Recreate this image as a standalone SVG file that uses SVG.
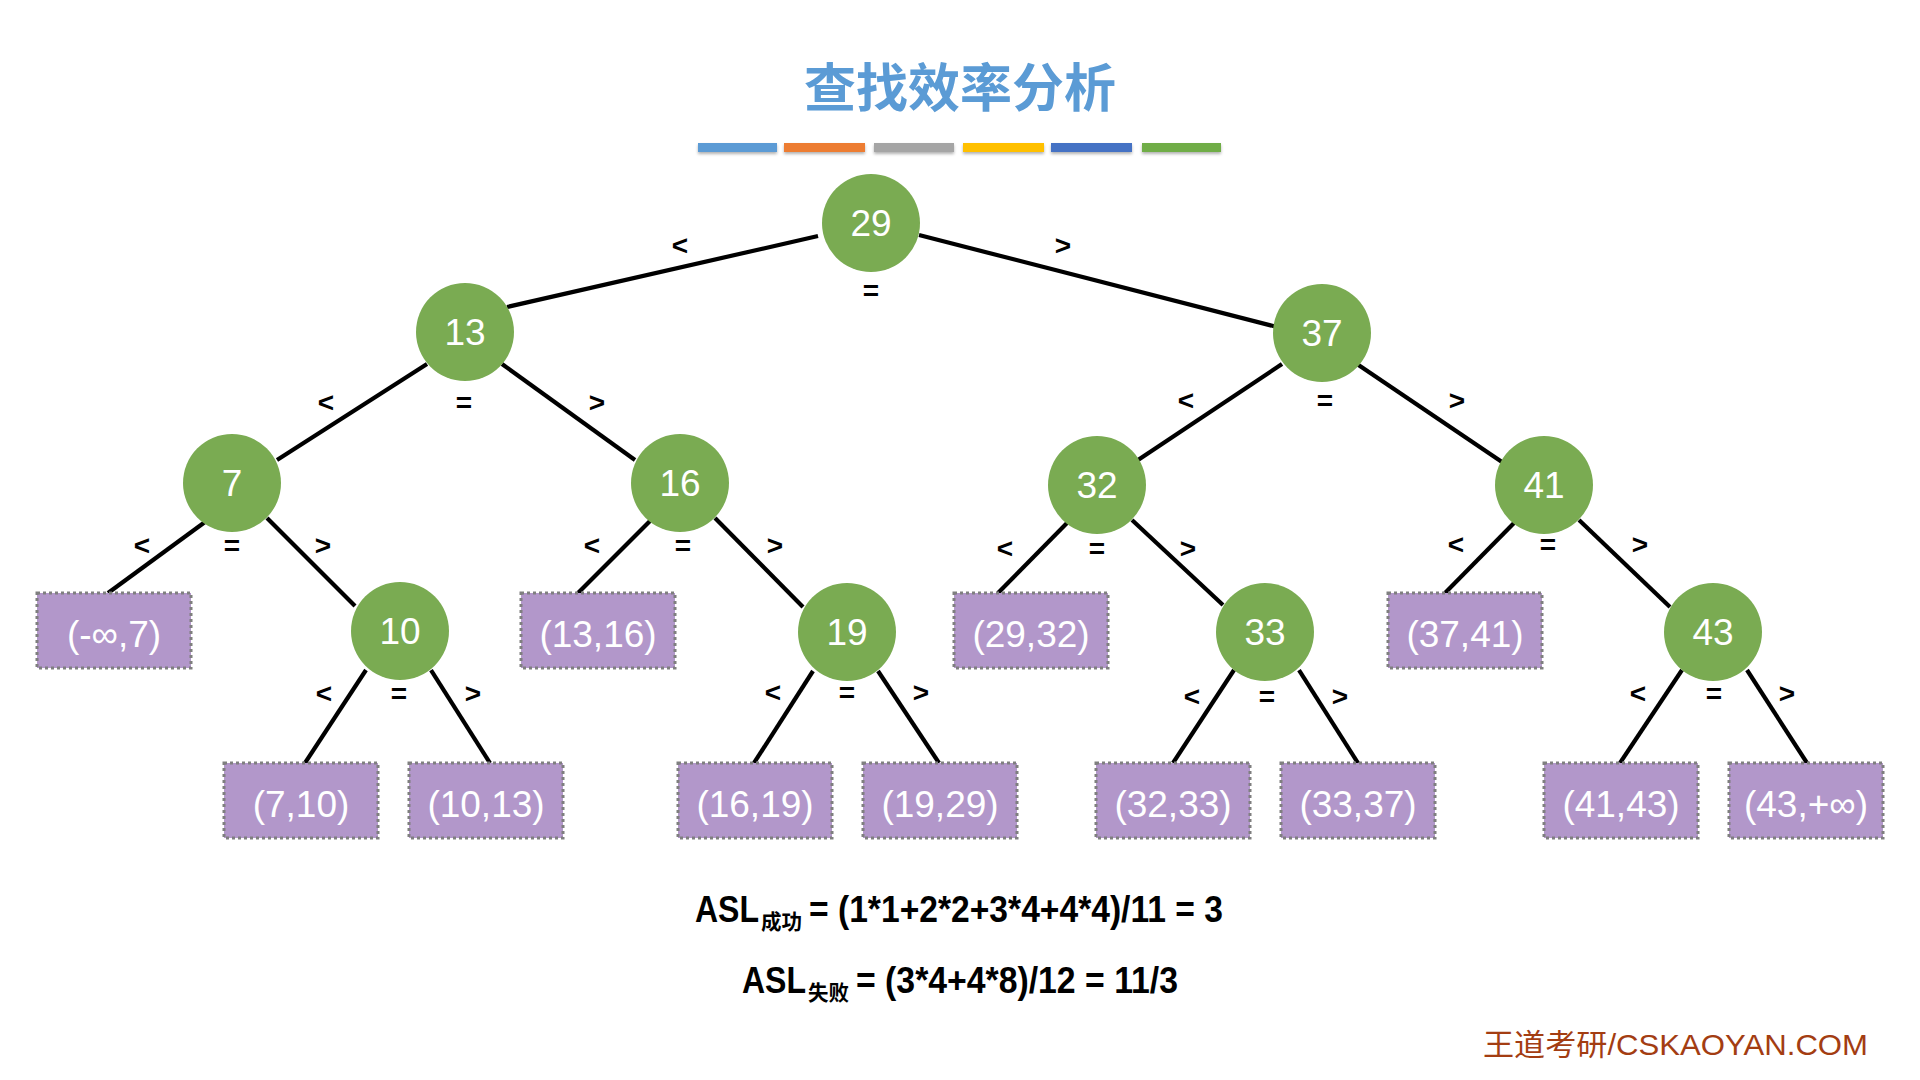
<svg xmlns="http://www.w3.org/2000/svg" width="1920" height="1080" viewBox="0 0 1920 1080">
<defs>
<style>
.node circle{fill:#7AAB52}
.node text{fill:#fff;font-family:"Liberation Sans",Arial,sans-serif;font-size:37px;text-anchor:middle}
.leaf rect{fill:#B297CA;stroke:#7F7F7F;stroke-width:3;stroke-dasharray:3 3}
.leaf text{fill:#fff;font-family:"Liberation Sans",Arial,sans-serif;font-size:37px;text-anchor:middle}
.edges line{stroke:#000;stroke-width:4.2;stroke-linecap:butt}
.lbl text{font-family:"Liberation Sans",Arial,sans-serif;font-size:28px;font-weight:bold;text-anchor:middle;fill:#000}
.f{font-family:"Liberation Sans","Noto Sans CJK SC",sans-serif;font-weight:bold;fill:#000}
</style>
<filter id="sh" x="-5%" y="-50%" width="110%" height="250%">
<feDropShadow dx="0" dy="2" stdDeviation="1.5" flood-color="#000" flood-opacity="0.3"/>
</filter>
</defs>
<rect width="1920" height="1080" fill="#fff"/>

<g id="title">
<text x="960" y="107" text-anchor="middle" font-family="'Noto Sans CJK SC',sans-serif" font-weight="bold" font-size="52" fill="#5B9BD5">查找效率分析</text>
<g filter="url(#sh)">
<rect x="698" y="143" width="79" height="9" fill="#5B9BD5"/>
<rect x="784" y="143" width="81" height="9" fill="#ED7D31"/>
<rect x="874" y="143" width="80" height="9" fill="#A5A5A5"/>
<rect x="963" y="143" width="81" height="9" fill="#FFC000"/>
<rect x="1051" y="143" width="81" height="9" fill="#4472C4"/>
<rect x="1142" y="143" width="79" height="9" fill="#70AD47"/>
</g>
</g>

<g id="connectors" class="edges">
<line x1="818" y1="236" x2="507" y2="307"/>
<line x1="919" y1="235" x2="1277" y2="327"/>
<line x1="427" y1="364" x2="277" y2="460"/>
<line x1="502" y1="364" x2="635" y2="460"/>
<line x1="1282" y1="364" x2="1138" y2="460"/>
<line x1="1357" y1="364" x2="1502" y2="462"/>
<line x1="205" y1="522" x2="108" y2="593"/>
<line x1="267" y1="518" x2="355" y2="606"/>
<line x1="650" y1="521" x2="578" y2="593"/>
<line x1="715" y1="518" x2="803" y2="607"/>
<line x1="1067" y1="523" x2="998" y2="593"/>
<line x1="1132" y1="520" x2="1223" y2="605"/>
<line x1="1514" y1="523" x2="1445" y2="593"/>
<line x1="1579" y1="520" x2="1670" y2="607"/>
<line x1="366" y1="670" x2="305" y2="763"/>
<line x1="431" y1="670" x2="490" y2="763"/>
<line x1="813" y1="671" x2="754" y2="763"/>
<line x1="878" y1="671" x2="939" y2="763"/>
<line x1="1234" y1="670" x2="1173" y2="763"/>
<line x1="1299" y1="670" x2="1358" y2="763"/>
<line x1="1682" y1="670" x2="1620" y2="763"/>
<line x1="1747" y1="670" x2="1807" y2="763"/>
</g>

<g id="labels" class="lbl">
<text x="680" y="255">&lt;</text><text x="871" y="300">=</text><text x="1063" y="255">&gt;</text>
<text x="326" y="412">&lt;</text><text x="464" y="412">=</text><text x="597" y="412">&gt;</text>
<text x="1186" y="410">&lt;</text><text x="1325" y="410">=</text><text x="1457" y="410">&gt;</text>
<text x="142" y="555">&lt;</text><text x="232" y="555">=</text><text x="323" y="555">&gt;</text>
<text x="592" y="555">&lt;</text><text x="683" y="555">=</text><text x="775" y="555">&gt;</text>
<text x="1005" y="558">&lt;</text><text x="1097" y="558">=</text><text x="1188" y="558">&gt;</text>
<text x="1456" y="554">&lt;</text><text x="1548" y="554">=</text><text x="1640" y="554">&gt;</text>
<text x="324" y="703">&lt;</text><text x="399" y="703">=</text><text x="473" y="703">&gt;</text>
<text x="773" y="702">&lt;</text><text x="847" y="702">=</text><text x="921" y="702">&gt;</text>
<text x="1192" y="706">&lt;</text><text x="1267" y="706">=</text><text x="1340" y="706">&gt;</text>
<text x="1638" y="703">&lt;</text><text x="1714" y="703">=</text><text x="1787" y="703">&gt;</text>
</g>

<g id="n29" class="node"><circle cx="871" cy="223" r="49"/><text x="871" y="236">29</text></g>
<g id="n13" class="node"><circle cx="465" cy="332" r="49"/><text x="465" y="345">13</text></g>
<g id="n37" class="node"><circle cx="1322" cy="333" r="49"/><text x="1322" y="346">37</text></g>
<g id="n7" class="node"><circle cx="232" cy="483" r="49"/><text x="232" y="496">7</text></g>
<g id="n16" class="node"><circle cx="680" cy="483" r="49"/><text x="680" y="496">16</text></g>
<g id="n32" class="node"><circle cx="1097" cy="485" r="49"/><text x="1097" y="498">32</text></g>
<g id="n41" class="node"><circle cx="1544" cy="485" r="49"/><text x="1544" y="498">41</text></g>
<g id="n10" class="node"><circle cx="400" cy="631" r="49"/><text x="400" y="644">10</text></g>
<g id="n19" class="node"><circle cx="847" cy="632" r="49"/><text x="847" y="645">19</text></g>
<g id="n33" class="node"><circle cx="1265" cy="632" r="49"/><text x="1265" y="645">33</text></g>
<g id="n43" class="node"><circle cx="1713" cy="632" r="49"/><text x="1713" y="645">43</text></g>

<g id="f1" class="leaf"><rect x="37" y="593" width="154" height="75"/><text x="114" y="647">(-∞,7)</text></g>
<g id="f2" class="leaf"><rect x="521" y="593" width="154" height="75"/><text x="598" y="647">(13,16)</text></g>
<g id="f3" class="leaf"><rect x="954" y="593" width="154" height="75"/><text x="1031" y="647">(29,32)</text></g>
<g id="f4" class="leaf"><rect x="1388" y="593" width="154" height="75"/><text x="1465" y="647">(37,41)</text></g>
<g id="f5" class="leaf"><rect x="224" y="763" width="154" height="75"/><text x="301" y="817">(7,10)</text></g>
<g id="f6" class="leaf"><rect x="409" y="763" width="154" height="75"/><text x="486" y="817">(10,13)</text></g>
<g id="f7" class="leaf"><rect x="678" y="763" width="154" height="75"/><text x="755" y="817">(16,19)</text></g>
<g id="f8" class="leaf"><rect x="863" y="763" width="154" height="75"/><text x="940" y="817">(19,29)</text></g>
<g id="f9" class="leaf"><rect x="1096" y="763" width="154" height="75"/><text x="1173" y="817">(32,33)</text></g>
<g id="f10" class="leaf"><rect x="1281" y="763" width="154" height="75"/><text x="1358" y="817">(33,37)</text></g>
<g id="f11" class="leaf"><rect x="1544" y="763" width="154" height="75"/><text x="1621" y="817">(41,43)</text></g>
<g id="f12" class="leaf"><rect x="1729" y="763" width="154" height="75"/><text x="1806" y="817">(43,+∞)</text></g>

<g id="formulas">
<text class="f" x="695" y="922" font-size="37" textLength="64" lengthAdjust="spacingAndGlyphs">ASL</text>
<text class="f" x="761" y="929" font-size="21" textLength="41" lengthAdjust="spacingAndGlyphs">成功</text>
<text class="f" x="809" y="922" font-size="37" textLength="414" lengthAdjust="spacingAndGlyphs">= (1*1+2*2+3*4+4*4)/11 = 3</text>
<text class="f" x="742" y="993" font-size="37" textLength="64" lengthAdjust="spacingAndGlyphs">ASL</text>
<text class="f" x="808" y="1000" font-size="21" textLength="41" lengthAdjust="spacingAndGlyphs">失败</text>
<text class="f" x="856" y="993" font-size="37" textLength="322" lengthAdjust="spacingAndGlyphs">= (3*4+4*8)/12 = 11/3</text>
</g>

<text id="footer" x="1483" y="1055" font-family="'Liberation Sans','Noto Sans CJK SC',sans-serif" font-size="30" fill="#A33D12" textLength="385" lengthAdjust="spacingAndGlyphs">王道考研/CSKAOYAN.COM</text>
</svg>
